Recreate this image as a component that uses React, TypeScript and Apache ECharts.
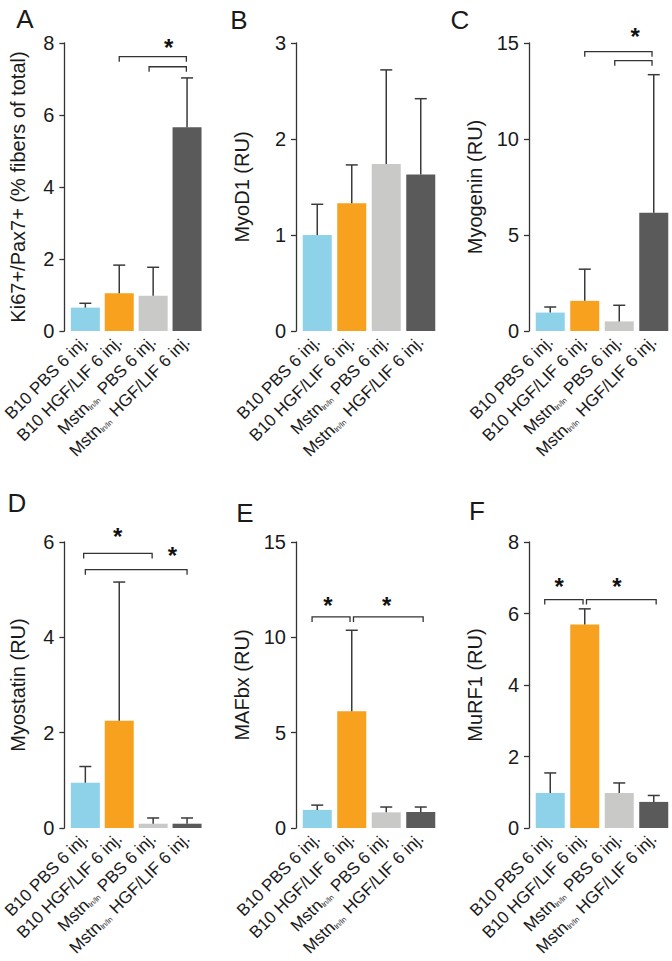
import React, { useEffect, useRef } from 'react';
import * as echarts from 'echarts';

// ---------- data ----------
const categories = [
  'B10 PBS 6 inj.',
  'B10 HGF/LIF 6 inj.',
  'Mstn ln/ln PBS 6 inj.',
  'Mstn ln/ln HGF/LIF 6 inj.',
];

const panelLetters = ['A', 'B', 'C', 'D', 'E', 'F'];
const yTitles = [
  'Ki67+/Pax7+ (% fibers of total)',
  'MyoD1 (RU)',
  'Myogenin (RU)',
  'Myostatin (RU)',
  'MAFbx (RU)',
  'MuRF1 (RU)',
];
const yMax = [8, 3, 15, 6, 15, 8];
const yStep = [2, 1, 5, 2, 5, 2];

const ki67Means = [0.65, 1.05, 0.98, 5.66];
const ki67Err = [0.12, 0.78, 0.79, 1.37];
const myod1Means = [1.0, 1.33, 1.74, 1.63];
const myod1Err = [0.32, 0.4, 0.98, 0.79];
const myogeninMeans = [0.96, 1.57, 0.5, 6.16];
const myogeninErr = [0.29, 1.65, 0.84, 7.19];
const myostatinMeans = [0.95, 2.25, 0.09, 0.09];
const myostatinErr = [0.34, 2.91, 0.12, 0.12];
const mafbxMeans = [0.95, 6.12, 0.82, 0.84];
const mafbxErr = [0.25, 4.25, 0.28, 0.26];
const murf1Means = [0.98, 5.69, 0.98, 0.73];
const murf1Err = [0.56, 0.44, 0.28, 0.18];

// significance brackets: [from category, to category, level]
const ki67Brackets = [[1, 2.98, 7.62], [1.88, 2.98, 7.34]];
const myod1Brackets: number[][] = [];
const myogeninBrackets = [[1, 2.95, 14.55], [1.87, 2.95, 14.08]];
const myostatinBrackets = [[-0.05, 1.97, 5.76], [0, 3, 5.42]];
const mafbxBrackets = [[-0.15, 0.95, 11.07], [1.05, 3.07, 11.07]];
const murf1Brackets = [[-0.16, 0.95, 6.39], [1.05, 3.07, 6.39]];

// asterisks: [category position, level]
const ki67Stars = [[2.46, 7.99]];
const myod1Stars: number[][] = [];
const myogeninStars = [[2.46, 15.57]];
const myostatinStars = [[0.95, 6.21], [2.57, 5.82]];
const mafbxStars = [[0.31, 11.9], [2.01, 11.9]];
const murf1Stars = [[0.26, 6.88], [1.93, 6.88]];

const allMeans = [ki67Means, myod1Means, myogeninMeans, myostatinMeans, mafbxMeans, murf1Means];
const allErr = [ki67Err, myod1Err, myogeninErr, myostatinErr, mafbxErr, murf1Err];
const allBrackets = [ki67Brackets, myod1Brackets, myogeninBrackets, myostatinBrackets, mafbxBrackets, murf1Brackets];
const allStars = [ki67Stars, myod1Stars, myogeninStars, myostatinStars, mafbxStars, murf1Stars];

// ---------- style ----------
const barColors = ['#8DD2E9', '#F7A11E', '#C9C9C7', '#5A5A5A'];
const FONT = '"Liberation Sans", Arial, Helvetica, sans-serif';
const TEXT = '#1a1a1a';
const LINE = '#333333';
const colLeft = [66, 300, 533];
const rowTop = [43, 542];
const rowHeight = [288, 286];
const plotWidth = 138;
const nameGaps = [36, 44, 44, 36, 44, 44];
const letterPos = [
  [25, 19], [239, 20], [460, 20],
  [17, 503], [245, 513], [477, 511],
];

function buildOption() {
  const grid: any[] = [];
  const xAxis: any[] = [];
  const yAxis: any[] = [];
  const series: any[] = [];

  for (let p = 0; p < 6; p++) {
    const row = Math.floor(p / 3);
    const col = p % 3;
    grid.push({
      left: colLeft[col],
      top: rowTop[row],
      width: plotWidth,
      height: rowHeight[row],
      containLabel: false,
    });
    xAxis.push({
      type: 'category',
      gridIndex: p,
      data: categories,
      axisLine: { show: false },
      axisTick: { show: false },
      axisLabel: {
        interval: 0,
        rotate: 45,
        margin: 8,
        fontSize: 17,
        fontFamily: FONT,
        color: TEXT,
        formatter: (v: string) => v.replace('Mstn ln/ln', 'Mstn{sub|ln/ln}'),
        rich: {
          sub: { fontSize: 7.5, fontFamily: FONT, color: TEXT, verticalAlign: 'bottom', padding: [0, 1, 0, 0] },
        },
      },
    });
    yAxis.push({
      type: 'value',
      gridIndex: p,
      min: 0,
      max: yMax[p],
      interval: yStep[p],
      offset: 4,
      name: yTitles[p],
      nameLocation: 'middle',
      nameGap: nameGaps[p],
      nameTextStyle: { fontSize: 20, fontFamily: FONT, color: TEXT },
      axisLine: { show: true, lineStyle: { color: LINE, width: 1.3 } },
      axisTick: { show: true, length: 5, lineStyle: { color: LINE, width: 1.3 } },
      axisLabel: { fontSize: 20, fontFamily: FONT, color: TEXT, margin: 10 },
      splitLine: { show: false },
    });

    const means = allMeans[p];
    const errs = allErr[p];
    const brackets = allBrackets[p];
    const stars = allStars[p];

    series.push({
      type: 'bar',
      xAxisIndex: p,
      yAxisIndex: p,
      barWidth: 29,
      data: means.map((m, i) => ({ value: m, itemStyle: { color: barColors[i] } })),
      z: 2,
    });

    series.push({
      type: 'custom',
      xAxisIndex: p,
      yAxisIndex: p,
      z: 3,
      encode: { x: 0, y: 1 },
      data: means.map((m, i) => [i, m, errs[i]]),
      renderItem: (params: any, api: any) => {
        const i = api.value(0);
        const m = api.value(1);
        const e = api.value(2);
        const p0 = api.coord([i, m]);
        const p1 = api.coord([i, m + e]);
        const st = { stroke: '#3a3a3a', lineWidth: 1.5 };
        return {
          type: 'group',
          children: [
            { type: 'line', shape: { x1: p0[0], y1: p0[1], x2: p1[0], y2: p1[1] }, style: st },
            { type: 'line', shape: { x1: p1[0] - 6, y1: p1[1], x2: p1[0] + 6, y2: p1[1] }, style: st },
          ],
        };
      },
    });

    if (brackets.length) {
      series.push({
        type: 'custom',
        xAxisIndex: p,
        yAxisIndex: p,
        z: 4,
        clip: false,
        encode: { y: 2 },
        data: brackets.map((b) => [0, 0, b[2]]),
        renderItem: (params: any, api: any) => {
          const b = brackets[params.dataIndex];
          const base = api.coord([0, b[2]]);
          const bw = api.size([1, 0])[0];
          const x1 = base[0] + b[0] * bw;
          const x2 = base[0] + b[1] * bw;
          const y = base[1];
          return {
            type: 'polyline',
            shape: { points: [[x1, y + 5], [x1, y], [x2, y], [x2, y + 5]] },
            style: { stroke: LINE, lineWidth: 1.3, fill: null },
          };
        },
      });
    }

    if (stars.length) {
      series.push({
        type: 'custom',
        xAxisIndex: p,
        yAxisIndex: p,
        z: 4,
        clip: false,
        encode: { y: 1 },
        data: stars.map((s) => [0, s[1]]),
        renderItem: (params: any, api: any) => {
          const s = stars[params.dataIndex];
          const base = api.coord([0, s[1]]);
          const bw = api.size([1, 0])[0];
          return {
            type: 'text',
            x: base[0] + s[0] * bw,
            y: base[1] + 4.5,
            style: {
              text: '*',
              fontSize: 24,
              fontWeight: 'bold',
              fontFamily: FONT,
              fill: '#111',
              align: 'center',
              verticalAlign: 'middle',
              textAlign: 'center',
              textVerticalAlign: 'middle',
            },
          };
        },
      });
    }
  }

  const graphic = panelLetters.map((l, i) => ({
    type: 'text',
    x: letterPos[i][0],
    y: letterPos[i][1],
    style: {
      text: l,
      fontSize: 26,
      fontFamily: FONT,
      fill: TEXT,
      align: 'center',
      verticalAlign: 'middle',
      textAlign: 'center',
      textVerticalAlign: 'middle',
    },
  }));

  return {
    animation: false,
    backgroundColor: '#ffffff',
    textStyle: { fontFamily: FONT },
    grid,
    xAxis,
    yAxis,
    series,
    graphic,
  };
}

export default function App() {
  const ref = useRef<HTMLDivElement>(null);
  useEffect(() => {
    if (!ref.current) return;
    const chart = echarts.init(ref.current, undefined, { renderer: 'svg' });
    chart.setOption(buildOption() as any);
    return () => chart.dispose();
  }, []);
  return (
    <div
      ref={ref}
      style={{ position: 'fixed', left: 0, top: 0, width: 672, height: 961, background: '#fff' }}
    />
  );
}
